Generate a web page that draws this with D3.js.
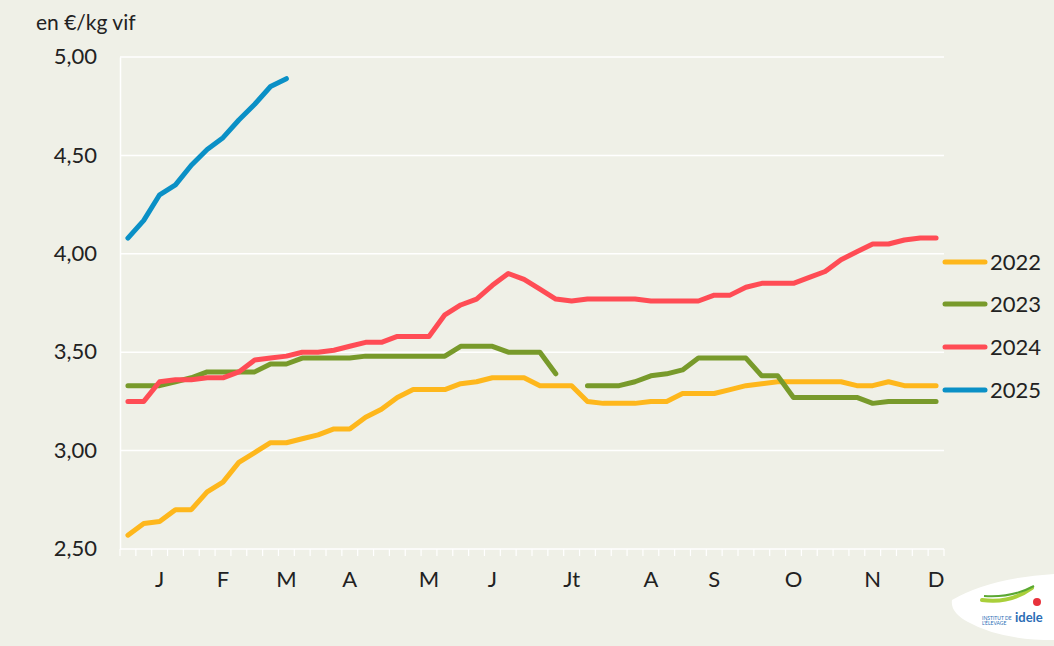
<!DOCTYPE html>
<html>
<head>
<meta charset="utf-8">
<script src="https://cdn.jsdelivr.net/npm/d3@7"></script>
<style>
  html, body { margin: 0; padding: 0; background: #eff0e7; }
  svg text { font-family: Lato, "Open Sans", sans-serif; fill: #222; }
</style>
</head>
<body>
<svg id="chart"></svg>
<script>
let svgWidth = 1054, svgHeight = 646

// week labels (52 weeks, only some carry a month letter)
const weekLabels = d3.range(52).map(() => '')
const monthMarks = [[2,'J'],[6,'F'],[10,'M'],[14,'A'],[19,'M'],[23,'J'],[28,'Jt'],[33,'A'],[37,'S'],[42,'O'],[47,'N'],[51,'D']]
monthMarks.forEach(m => weekLabels[m[0]] = m[1])

const years = ['2022', '2023', '2024', '2025']
const colors = ['#feb71c', '#789a2b', '#ff4c55', '#0a90c6']

const v2022 = [2.57,2.63,2.64,2.70,2.70,2.79,2.84,2.94,2.99,3.04,3.04,3.06,3.08,3.11,3.11,3.17,3.21,3.27,3.31,3.31,
  3.31,3.34,3.35,3.37,3.37,3.37,3.33,3.33,3.33,3.25,3.24,3.24,3.24,3.25,3.25,3.29,3.29,3.29,3.31,3.33,
  3.34,3.35,3.35,3.35,3.35,3.35,3.33,3.33,3.35,3.33,3.33,3.33]
const v2023 = [3.33,3.33,3.33,3.35,3.37,3.40,3.40,3.40,3.40,3.44,3.44,3.47,3.47,3.47,3.47,3.48,3.48,3.48,3.48,3.48,
  3.48,3.53,3.53,3.53,3.50,3.50,3.50,3.39,null,3.33,3.33,3.33,3.35,3.38,3.39,3.41,3.47,3.47,3.47,3.47,
  3.38,3.38,3.27,3.27,3.27,3.27,3.27,3.24,3.25,3.25,3.25,3.25]
const v2024 = [3.25,3.25,3.35,3.36,3.36,3.37,3.37,3.40,3.46,3.47,3.48,3.50,3.50,3.51,3.53,3.55,3.55,3.58,3.58,3.58,
  3.69,3.74,3.77,3.84,3.90,3.87,3.82,3.77,3.76,3.77,3.77,3.77,3.77,3.76,3.76,3.76,3.76,3.79,3.79,3.83,
  3.85,3.85,3.85,3.88,3.91,3.97,4.01,4.05,4.05,4.07,4.08,4.08]
const v2025 = [4.08,4.17,4.30,4.35,4.45,4.53,4.59,4.68,4.76,4.85,4.89]

const yTicks = [2.5, 3.0, 3.5, 4.0, 4.5, 5.0]

let svg = d3.select('#chart').attr('width', svgWidth).attr('height', svgHeight)
svg.append('rect').attr('width', svgWidth).attr('height', svgHeight).attr('fill', '#eff0e7')

let x = d3.scaleBand().domain(d3.range(52)).range([120, 944])
let y = d3.scaleLinear().domain([2.5, 5]).range([549, 57])

// grid
let g = svg.append('g')
g.selectAll('line.grid').data(yTicks.slice(1)).enter().append('line')
  .attr('x1', 120).attr('x2', 944)
  .attr('y1', d => y(d)).attr('y2', d => y(d))
  .attr('stroke', '#fff').attr('stroke-width', 1.5)

// y axis
let yAxis = d3.axisLeft(y).tickValues(yTicks).tickSize(0).tickPadding(23)
  .tickFormat(d => d3.format('.2f')(d).replace('.', ','))
let ya = svg.append('g').attr('transform', 'translate(120,0)').call(yAxis)
ya.select('.domain').attr('stroke', '#fff').attr('stroke-width', 1.5)
ya.selectAll('text').style('font-size', '22px').attr('fill', '#222').attr('dy', '0.3em')

// x axis: ticks on week boundaries
let xa = svg.append('g')
xa.append('line').attr('x1', 120).attr('x2', 944).attr('y1', 549).attr('y2', 549)
  .attr('stroke', '#fff').attr('stroke-width', 1.5)
xa.selectAll('line.tick').data(d3.range(53)).enter().append('line')
  .attr('x1', d => 120 + d * x.step()).attr('x2', d => 120 + d * x.step())
  .attr('y1', 549).attr('y2', 556)
  .attr('stroke', '#fff').attr('stroke-width', 1.2)
xa.selectAll('text').data(d3.range(52).filter(i => weekLabels[i])).enter().append('text')
  .attr('x', i => x(i) + x.bandwidth() / 2)
  .attr('y', 587)
  .attr('text-anchor', 'middle')
  .style('font-size', '22px')
  .text(i => weekLabels[i])

svg.append('text').attr('x', 36).attr('y', 30).style('font-size', '21px').text('en €/kg vif')

// lines
const series = [v2022, v2023, v2024, v2025]
let line = d3.line()
  .defined(d => d != null)
  .x((d, i) => x(i) + x.bandwidth() / 2)
  .y(d => y(d))

series.forEach((s, k) => {
  svg.append('path').datum(s)
    .attr('d', line)
    .attr('fill', 'none')
    .attr('stroke', colors[k])
    .attr('stroke-width', 5)
    .attr('stroke-linecap', 'round')
    .attr('stroke-linejoin', 'round')
})

// legend
const legendY = [262, 304, 347, 390]
let lg = svg.selectAll('g.legend').data(years).enter().append('g')
lg.append('line')
  .attr('x1', 945).attr('x2', 985)
  .attr('y1', (d, i) => legendY[i]).attr('y2', (d, i) => legendY[i])
  .attr('stroke', (d, i) => colors[i]).attr('stroke-width', 5).attr('stroke-linecap', 'round')
lg.append('text')
  .attr('x', 990).attr('y', (d, i) => legendY[i] + 8)
  .style('font-size', '22px')
  .text(d => d)

// logo
let logo = svg.append('g')
logo.append('path')
  .attr('d', 'M952,600 Q990,578 1054,574 L1054,640 Q1000,640 968,622 Q950,612 952,600 Z')
  .attr('fill', '#fff')
logo.append('path').attr('d', 'M982,600 Q1010,604 1032,588')
  .attr('fill', 'none').attr('stroke', '#a9cf3a').attr('stroke-width', 4).attr('stroke-linecap', 'round')
logo.append('path').attr('d', 'M984,596 Q1012,598 1034,586')
  .attr('fill', 'none').attr('stroke', '#5aa832').attr('stroke-width', 2)
logo.append('text').attr('x', 1015).attr('y', 622).style('font-size', '13px')
  .style('font-weight', 'bold').style('fill', '#2a6db5').text('idele')
logo.append('text').attr('x', 982).attr('y', 620).style('font-size', '5px')
  .style('fill', '#2a6db5').text('INSTITUT DE')
logo.append('text').attr('x', 982).attr('y', 625).style('font-size', '5px')
  .style('fill', '#2a6db5').text("L'ÉLEVAGE")
logo.append('circle').attr('cx', 1037).attr('cy', 602).attr('r', 4).attr('fill', '#e8323c')
</script>
</body>
</html>
